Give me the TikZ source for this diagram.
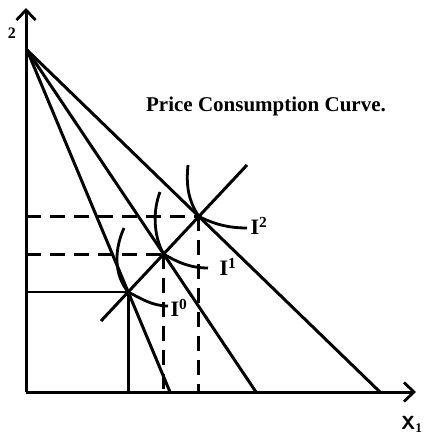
\documentclass[tikz,border=0pt]{standalone}
\usepackage{fontspec}
\setmainfont{Liberation Serif}
\usetikzlibrary{arrows.meta}
\tikzset{
  axis/.style={line width=3pt,-{Straight Barb[length=10pt,width=19pt,line width=2.8pt]}},
  budget/.style={line width=3pt},
  icurve/.style={line width=2.8pt},
  guide/.style={line width=2.8pt},
  dguide/.style={line width=3pt,dash pattern=on 15pt off 9pt},
  ilabel/.style={font=\fontsize{22}{24}\selectfont\bfseries,inner sep=0pt},
}
\begin{document}
\begin{tikzpicture}[x=1pt,y=-1pt]
\useasboundingbox (0,0) rectangle (430,439);
% axes
\coordinate (O) at (26,392);
\coordinate (Ytop) at (26,8);
\coordinate (Xend) at (416,392);
\draw[axis] (O) -- (Ytop);
\draw[axis] (O) -- (Xend);
\node[font=\fontsize{16}{18}\selectfont\bfseries,inner sep=0pt] (ylab) at (12,33) {2};
\node[font=\fontsize{19}{21}\selectfont\sffamily\bfseries,inner sep=0pt] (xlab) at (412,424) {X$_{\mathbf 1}$};
% budget lines
\coordinate (A) at (27,50);
\coordinate (B0) at (170,392);
\coordinate (B1) at (256,392);
\coordinate (B2) at (380,392);
\draw[budget] (A) -- (B0);
\draw[budget] (A) -- (B1);
\draw[budget] (A) -- (B2);
% price consumption curve
\coordinate (P1) at (101,321);
\coordinate (P2) at (247,165);
\draw[budget] (P1) -- (P2);
\coordinate (E0) at (intersection of A--B0 and P1--P2);
\coordinate (E1) at (intersection of A--B1 and P1--P2);
\coordinate (E2) at (intersection of A--B2 and P1--P2);
% guide lines
\coordinate (Y0) at (26,0 |- E0);
\coordinate (Y1) at (26,0 |- E1);
\coordinate (Y2) at (26,0 |- E2);
\coordinate (X0) at (E0 |- O);
\coordinate (X1) at (E1 |- O);
\coordinate (X2) at (E2 |- O);
\draw[guide] (Y0) -- (E0) -- (X0);
\draw[dguide] (Y1) -- (E1);
\draw[dguide] (E1) -- (X1);
\draw[dguide] (Y2) -- (E2);
\draw[dguide] (E2) -- (X2);
% indifference curves
\draw[icurve] (124,228) .. controls (114,250) and (114,275) .. (E0)
  .. controls (140,298) and (152,306) .. (168,306);
\draw[icurve] (160,192) .. controls (153,210) and (153,235) .. (E1)
  .. controls (177,262) and (190,268) .. (208,268);
\draw[icurve] (188,165) .. controls (186,185) and (188,200) .. (E2)
  .. controls (214,224) and (228,228) .. (247,228);
\node[ilabel] (l0) at (179,308) {I\textsuperscript{0}};
\node[ilabel] (l1) at (228,267) {I\textsuperscript{1}};
\node[ilabel] (l2) at (259,226) {I\textsuperscript{2}};
% title
\node[font=\fontsize{21}{24}\selectfont\bfseries,inner sep=0pt] (title) at (266,106) {Price Consumption Curve.};
\end{tikzpicture}
\end{document}
